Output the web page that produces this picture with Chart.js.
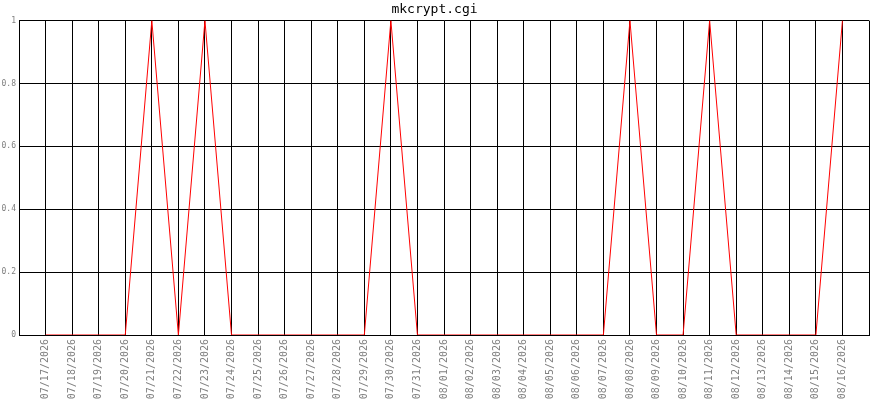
<!DOCTYPE html>
<html><head><meta charset="utf-8">
<script src="https://cdn.jsdelivr.net/npm/chart.js@4/dist/chart.umd.min.js"></script>
<style>html,body{margin:0;padding:0;background:#fff}#c{display:block}</style>
</head><body>
<div style="width:870px;height:400px"><canvas id="c" width="870" height="400"></canvas></div>
<script>
const chartTitle = 'mkcrypt.cgi';
const dates = ['07/17/2026','07/18/2026','07/19/2026','07/20/2026','07/21/2026','07/22/2026','07/23/2026','07/24/2026','07/25/2026','07/26/2026','07/27/2026','07/28/2026','07/29/2026','07/30/2026','07/31/2026','08/01/2026','08/02/2026','08/03/2026','08/04/2026','08/05/2026','08/06/2026','08/07/2026','08/08/2026','08/09/2026','08/10/2026','08/11/2026','08/12/2026','08/13/2026','08/14/2026','08/15/2026','08/16/2026'];
const values = [0,0,0,0,1,0,1,0,0,0,0,0,0,1,0,0,0,0,0,0,0,0,1,0,0,1,0,0,0,0,1];
const yTicks = [0,0.2,0.4,0.6,0.8,1];

const labels = [''].concat(dates, ['']);
const data = [null].concat(values, [null]);

new Chart(document.getElementById('c'), {
  type: 'line',
  data: { labels: labels, datasets: [{ data: data, borderColor: '#ff0000', borderWidth: 1, pointRadius: 0, tension: 0, fill: false }] },
  options: {
    responsive: false, animation: false,
    layout: { padding: { left: 0, right: 1, top: 0, bottom: 0 } },
    plugins: {
      legend: { display: false }, tooltip: { enabled: false },
      title: { display: true, text: chartTitle, color: '#000', font: { family: 'DejaVu Sans Mono', size: 13, weight: 'normal' }, padding: { top: 2, bottom: 3 } }
    },
    scales: {
      x: {
        type: 'category', offset: false,
        grid: { color: '#000', lineWidth: 1, drawTicks: false, offset: false },
        border: { color: '#000' },
        ticks: { autoSkip: false, maxRotation: 90, minRotation: 90, color: '#808080', padding: 4, font: { family: 'DejaVu Sans Mono', size: 10 } },
        afterFit: (s) => { s.height = 65; s.paddingLeft = 0; s.paddingRight = 0; }
      },
      y: {
        min: 0, max: 1,
        afterBuildTicks: (s) => { s.ticks = yTicks.map(v => ({ value: v })); },
        grid: { color: '#000', lineWidth: 1, drawTicks: false },
        border: { color: '#000' },
        ticks: { color: '#808080', padding: 3, font: { family: 'DejaVu Sans Mono', size: 8 }, callback: (v) => String(v) },
        afterFit: (s) => { s.width = 19; s.paddingTop = 0; s.paddingBottom = 0; }
      }
    }
  }
});
</script>
</body></html>
